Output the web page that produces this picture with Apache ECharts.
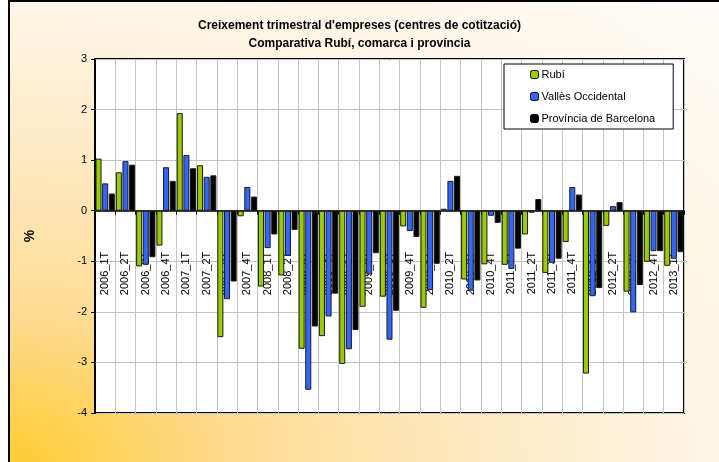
<!DOCTYPE html>
<html>
<head>
<meta charset="utf-8">
<script src="https://cdn.jsdelivr.net/npm/echarts@6/dist/echarts.min.js"></script>
<style>
  html, body { margin: 0; padding: 0; background: #fff; }
  #frame {
    position: absolute; left: 8px; top: 0; width: 711px; height: 462px;
    box-sizing: border-box; border-left: 2px solid #000; border-top: 2px solid #000;
    background: radial-gradient(ellipse farthest-corner at 0% 100%, #ffcc33 0%, #fedb90 22%, #fee9c0 45%, #fff5e6 70%, #fffcf8 100%);
  }
  #chart { position: absolute; left: 0; top: 0; width: 719px; height: 462px; }
</style>
</head>
<body>
<div id="frame"></div>
<div id="chart"></div>
<script>
var quarters = ['2006_1T', '2006_2T', '2006_3T', '2006_4T', '2007_1T', '2007_2T', '2007_3T', '2007_4T',
  '2008_1T', '2008_2T', '2008_3T', '2008_4T', '2009_1T', '2009_2T', '2009_3T', '2009_4T',
  '2010_1T', '2010_2T', '2010_3T', '2010_4T', '2011_1T', '2011_2T', '2011_3T', '2011_4T',
  '2012_1T', '2012_2T', '2012_3T', '2012_4T', '2013_1T'];
var rubi = [1.03, 0.76, -1.10, -0.69, 1.93, 0.90, -2.50, -0.11, -1.50, -1.28, -2.73, -2.48, -3.03, -1.90, -1.70,
  -0.31, -1.92, 0.04, -1.36, -1.06, -1.07, -0.47, -1.23, -0.62, -3.22, -0.30, -1.60, -1.01, -1.09];
var valles = [0.54, 0.98, -1.07, 0.86, 1.10, 0.67, -1.75, 0.47, -0.74, -0.89, -3.54, -2.09, -2.74, -1.26, -2.55,
  -0.40, -1.57, 0.59, -1.58, -0.10, -1.15, -0.04, -1.03, 0.47, -1.69, 0.09, -2.01, -0.80, -0.95];
var provincia = [0.34, 0.91, -0.92, 0.59, 0.84, 0.70, -1.40, 0.28, -0.47, -0.38, -2.29, -1.64, -2.36, -0.84, -1.98,
  -0.52, -1.05, 0.69, -1.38, -0.24, -0.75, 0.23, -0.95, 0.32, -1.53, 0.17, -1.47, -0.80, -0.82];

var font = 'Arial, "Liberation Sans", sans-serif';
var yMin = -4, yMax = 3;
var plotTop = 59, plotHeight = 354;
// the category axis sits on the zero line, labels hang below it
var zeroOffset = -plotHeight * (0 - yMin) / (yMax - yMin);

var chart = echarts.init(document.getElementById('chart'), null, { renderer: 'canvas' });

function barSeries(name, data, color) {
  return {
    name: name, type: 'bar', data: data,
    barGap: '10%', barCategoryGap: '5%',
    itemStyle: { color: color, borderColor: '#1a1a1a', borderWidth: 1 }
  };
}

chart.setOption({
  animation: false,
  backgroundColor: 'transparent',
  title: {
    text: "Creixement trimestral d'empreses (centres de cotització)\nComparativa Rubí, comarca i província",
    left: 'center', top: 12,
    textStyle: { fontFamily: font, fontSize: 12, fontWeight: 'bold', color: '#000', lineHeight: 18 }
  },
  legend: {
    orient: 'vertical', left: 504, top: 64,
    padding: [5, 18, 5, 26], itemGap: 11, itemWidth: 8, itemHeight: 8,
    backgroundColor: '#fff', borderColor: '#000', borderWidth: 1,
    textStyle: { fontFamily: font, fontSize: 11, color: '#000', padding: [0, 0, 0, -2] },
    itemStyle: { borderColor: '#000', borderWidth: 1 },
    data: ['Rubí', 'Vallès Occidental', 'Província de Barcelona']
  },
  grid: {
    left: 95, top: plotTop, width: 589, height: plotHeight,
    outerBoundsMode: 'none',
    show: true, backgroundColor: '#fff', borderColor: '#000', borderWidth: 2
  },
  xAxis: {
    type: 'category', data: quarters,
    position: 'bottom', offset: zeroOffset,
    axisLine: { onZero: false, lineStyle: { color: '#000', width: 1.5 } },
    axisTick: { show: true, length: 4, lineStyle: { color: '#000' } },
    axisLabel: { rotate: 90, margin: 41, interval: 0, fontFamily: font, fontSize: 11, color: '#000' },
    splitLine: { show: true, lineStyle: { color: '#c4c4c4', width: 1 } }
  },
  yAxis: {
    type: 'value', min: yMin, max: yMax, interval: 1,
    name: '%', nameLocation: 'middle', nameRotate: 90, nameGap: 58,
    nameTextStyle: { fontFamily: font, fontSize: 14, fontWeight: 'bold', color: '#000' },
    axisLine: { show: true, lineStyle: { color: '#000', width: 2 } },
    axisTick: { show: true, length: 4, lineStyle: { color: '#000' } },
    axisLabel: { margin: 8, fontFamily: font, fontSize: 11, color: '#000' },
    splitLine: { show: true, lineStyle: { color: '#c4c4c4', width: 1 } }
  },
  series: [
    barSeries('Rubí', rubi, '#99cc00'),
    barSeries('Vallès Occidental', valles, '#3366ff'),
    barSeries('Província de Barcelona', provincia, '#000000')
  ]
});
</script>
</body>
</html>
